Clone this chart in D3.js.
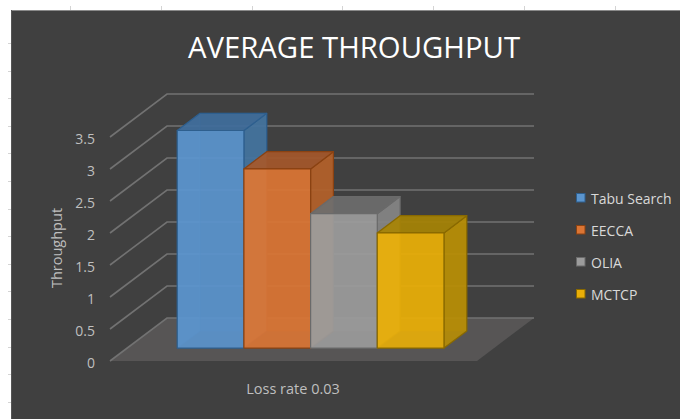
<!DOCTYPE html>
<html>
<head>
<meta charset="utf-8">
<script src="https://cdn.jsdelivr.net/npm/d3@7"></script>
<style>
  html, body { margin: 0; padding: 0; background: #ffffff; }
  svg { display: block; }
</style>
</head>
<body>
<svg id="chart" width="680" height="419"></svg>
<script>
// Chart data
const categories = ["Loss rate 0.03"];
const seriesNames = ["Tabu Search", "EECCA", "OLIA", "MCTCP"];
const seriesValues = [3.4, 2.8, 2.1, 1.8];
const yTicks = [0, 0.5, 1, 1.5, 2, 2.5, 3, 3.5];
const yTickLabels = ["0", "0.5", "1", "1.5", "2", "2.5", "3", "3.5"];
const titleText = "AVERAGE THROUGHPUT";
const yAxisTitle = "Throughput";

// Face colours per series: front, side, top, left, edge
const palette = [
  { front: "#5b95ce", side: "#44739f", top: "#3f6d9b", left: "#6aa3da", edge: "#2e5f8e" },
  { front: "#db7534", side: "#b3602a", top: "#a2572b", left: "#e8844a", edge: "#8a4212" },
  { front: "#9c9c9c", side: "#858585", top: "#6c6c6c", left: "#aaa5a3", edge: "#6a6a6a" },
  { front: "#eaaf08", side: "#b88e06", top: "#a48206", left: "#f4bd1a", edge: "#896900" }
];

const svg = d3.select("#chart");
const W = 680, H = 419;
const labelFont = "'Open Sans', sans-serif";

// Sheet backdrop and chart area
svg.append("rect").attr("x", 11).attr("y", 10).attr("width", W - 11).attr("height", H - 10)
  .attr("fill", "#404040");
svg.append("line").attr("x1", 11).attr("x2", W).attr("y1", 10.5).attr("y2", 10.5)
  .attr("stroke", "#8a8a8a").attr("stroke-width", 1);
svg.append("line").attr("x1", 11.5).attr("x2", 11.5).attr("y1", 10).attr("y2", H)
  .attr("stroke", "#555").attr("stroke-width", 1);

// Worksheet cell-border stubs in the margins
const colStubs = d3.range(70, W, 90.8);
const rowStubs = d3.range(43, H, 27.6);
svg.selectAll(".colstub").data(colStubs).join("line")
  .attr("x1", d => Math.round(d) + 0.5).attr("x2", d => Math.round(d) + 0.5)
  .attr("y1", 6).attr("y2", 10).attr("stroke", "#d4d4d4");
svg.selectAll(".rowstub").data(rowStubs).join("line")
  .attr("y1", d => Math.round(d) + 0.5).attr("y2", d => Math.round(d) + 0.5)
  .attr("x1", 8).attr("x2", 11).attr("stroke", "#d4d4d4");

// 3D plot geometry: floor origin (front-left), floor width and depth vector
const origin = { x: 110, y: 361 };
const floorWidth = 367;
const depthVec = { x: 57, y: -43 };

const y = d3.scaleLinear().domain([0, 3.5]).range([0, 224]);
const xBand = d3.scaleBand().domain(seriesNames).range([0, floorWidth])
  .paddingInner(0).paddingOuter(0.752);
const barDepth = [0.3, 0.7];

// project (x along floor, value, depth fraction) -> screen
function P(x, v, d) {
  return [origin.x + x + depthVec.x * d, origin.y + depthVec.y * d - y(v)];
}
const poly = pts => "M" + pts.map(p => p.join(",")).join("L") + "Z";

// Floor
svg.append("path")
  .attr("d", poly([P(0, 0, 0), P(floorWidth, 0, 0), P(floorWidth, 0, 1), P(0, 0, 1)]))
  .attr("fill", "#575555");

// Gridlines on the left and back walls
const grid = svg.append("g").attr("stroke", "#727272").attr("stroke-width", 1.6).attr("fill", "none");
grid.selectAll(".gl").data(yTicks).join("path")
  .attr("d", v => {
    const a = P(0, v, 0), b = P(0, v, 1), c = P(floorWidth, v, 1);
    return "M" + a + "L" + b + "L" + c;
  });

// Value axis labels
svg.append("g").selectAll("text").data(yTicks).join("text")
  .attr("x", 95)
  .attr("y", v => P(0, v, 0)[1] + 1)
  .attr("text-anchor", "end")
  .attr("dominant-baseline", "central")
  .attr("fill", "#bfbfbf")
  .attr("font-family", labelFont)
  .attr("font-size", 14)
  .text((v, i) => yTickLabels[i]);

// Bars (drawn left to right so nearer faces overlap correctly)
const bars = svg.append("g");
seriesNames.forEach((name, i) => {
  const v = seriesValues[i];
  const x0 = xBand(name), x1 = x0 + xBand.bandwidth();
  const [d0, d1] = barDepth;
  const c = palette[i];
  const g = bars.append("g").attr("stroke", c.edge).attr("stroke-width", 1.2)
    .attr("stroke-linejoin", "round");
  const faces = [
    { pts: [P(x0, 0, d1), P(x1, 0, d1), P(x1, v, d1), P(x0, v, d1)], fill: c.side },   // back
    { pts: [P(x0, 0, d0), P(x0, 0, d1), P(x0, v, d1), P(x0, v, d0)], fill: c.left },   // left
    { pts: [P(x1, 0, d0), P(x1, 0, d1), P(x1, v, d1), P(x1, v, d0)], fill: c.side },   // right
    { pts: [P(x0, v, d0), P(x1, v, d0), P(x1, v, d1), P(x0, v, d1)], fill: c.top },    // top
    { pts: [P(x0, 0, d0), P(x1, 0, d0), P(x1, v, d0), P(x0, v, d0)], fill: c.front }   // front
  ];
  faces.forEach((f, k) => {
    g.append("path").attr("d", poly(f.pts)).attr("fill", f.fill)
      .attr("fill-opacity", k < 2 ? 0.35 : 0.9)
      .attr("stroke-opacity", k < 2 ? 0.25 : 1);
  });
});

// Category label
svg.append("text")
  .attr("x", 293).attr("y", 394)
  .attr("text-anchor", "middle")
  .attr("fill", "#bfbfbf")
  .attr("font-family", labelFont)
  .attr("font-size", 14.5)
  .text(categories[0]);

// Axis title
svg.append("text")
  .attr("transform", "translate(62,248) rotate(-90)")
  .attr("text-anchor", "middle")
  .attr("fill", "#bfbfbf")
  .attr("font-family", labelFont)
  .attr("font-size", 14.5)
  .text(yAxisTitle);

// Title
svg.append("text")
  .attr("x", 354).attr("y", 58)
  .attr("text-anchor", "middle")
  .attr("fill", "#ffffff")
  .attr("font-family", labelFont)
  .attr("font-size", 29.3)
  .text(titleText);

// Legend
const legend = svg.append("g");
seriesNames.forEach((name, i) => {
  const cy = 198 + i * 32;
  legend.append("rect")
    .attr("x", 576.5).attr("y", cy - 4.5).attr("width", 8.5).attr("height", 8.5)
    .attr("fill", palette[i].front).attr("stroke", palette[i].edge).attr("stroke-width", 1);
  legend.append("text")
    .attr("x", 591).attr("y", cy)
    .attr("dominant-baseline", "central")
    .attr("fill", "#d9d9d9")
    .attr("font-family", labelFont)
    .attr("font-size", 14)
    .text(name);
});
</script>
</body>
</html>
